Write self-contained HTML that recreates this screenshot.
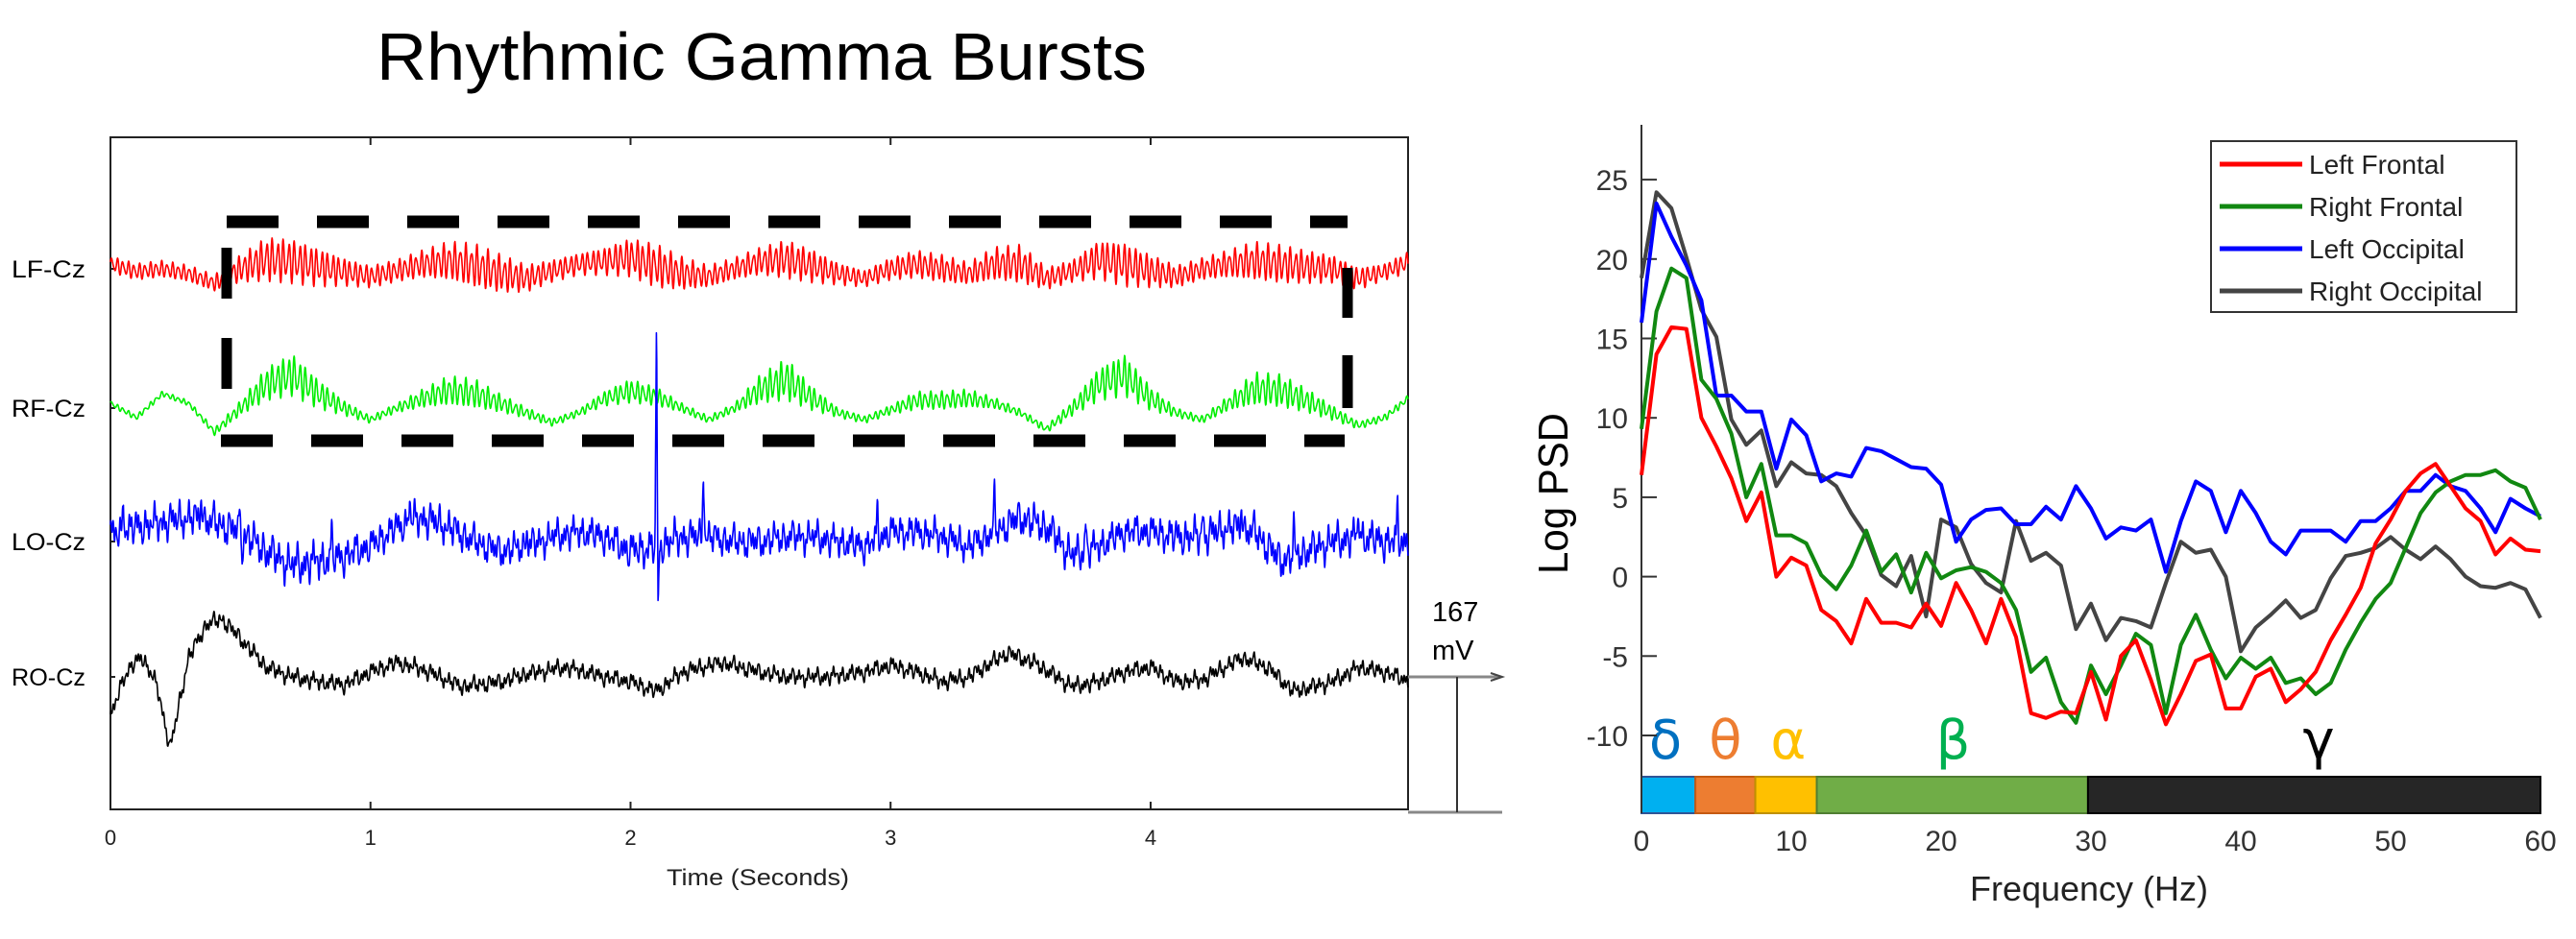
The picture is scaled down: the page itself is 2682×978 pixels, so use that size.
<!DOCTYPE html>
<html><head><meta charset="utf-8"><title>Rhythmic Gamma Bursts</title>
<style>
html,body{margin:0;padding:0;background:#fff;}
svg{display:block;font-family:"Liberation Sans",sans-serif;}
</style></head>
<body>
<svg id="fig" width="2682" height="978" viewBox="0 0 2682 978" xmlns="http://www.w3.org/2000/svg">
  <text x="392" y="83" font-size="70" textLength="802" lengthAdjust="spacingAndGlyphs" fill="#000">Rhythmic Gamma Bursts</text>

  <g id="eeg"></g>
  <g id="psd"></g>
</svg>
<script>
// ---------------- EEG data ----------------
// slow-wave values (µV-ish, up positive) on a 0.1 s grid from 0 to 5 s
const lfSlow = [5,-3,0,-5,-15,0,10,8,2,-3,-8,-2,5,8,3,-5,-10,-2,5,8,12,3,-5,-8,0,8,10,3,-5,-10,0,5,0,-5,5,5,-10,-2,10,5,-2,-8,0,5,8,5,2,0,-10,-3,8];
const lfAmp  = [9,9,9,9,9,15,24,24,21,15,12,12,15,21,24,21,15,12,12,15,21,24,18,12,12,15,21,18,12,9,12,15,15,12,18,21,12,12,21,24,18,12,12,15,21,21,18,15,12,9,12];
const rfSlow = [5,-10,15,5,-25,0,25,35,15,0,-12,0,10,18,15,5,-5,-15,-5,10,18,12,0,-12,0,20,30,10,-5,-12,-2,8,8,10,5,-5,-22,0,25,35,10,-5,-12,5,20,18,8,-5,-18,-10,12];
const rfAmp  = [3,3,3,3,4,8,18,23,16,8,4,5,10,16,16,10,6,4,4,8,13,10,5,4,5,16,23,13,5,4,5,10,10,10,6,4,4,8,18,23,13,5,4,8,18,18,13,8,4,4,4];
const loSlow = [5,15,20,25,20,10,-10,-25,-20,-15,-5,15,25,15,0,-10,-5,5,10,5,-10,-5,5,5,0,0,5,5,0,-5,10,10,5,-5,10,25,15,-15,-5,10,10,5,5,15,10,-20,-10,0,5,0,0];
const loAmp  = [19,19,19,19,19,19,20,21,21,19,17,17,19,19,17,17,17,17,17,17,19,20,19,17,17,17,17,17,17,17,17,17,17,17,17,19,19,19,17,17,17,19,19,19,19,19,19,19,19,19,19];
const loSpikeT   = [0.05,0.35,0.5,0.85,1.15,1.6,2.1,2.28,2.95,3.4,3.75,4.2,4.35,4.55,4.8,4.95];
const loSpikeUp  = [45,35,30,25,30,25,226,82,30,40,35,30,35,30,30,35];
const loSpikeDn  = [0,0,-30,0,0,0,-76,0,0,0,0,0,0,0,0,0];
const roT    = [0,0.05,0.12,0.18,0.23,0.3,0.37,0.43,0.5,0.6,0.7,0.8,0.9,1.0,1.1,1.2,1.35,1.5,1.6,1.75,1.9,2.0,2.1,2.2,2.35,2.5,2.6,2.75,2.9,3.0,3.1,3.2,3.3,3.45,3.55,3.7,3.8,3.9,4.0,4.1,4.2,4.35,4.45,4.55,4.7,4.8,4.9,5.0];
const roSlow = [-45,0,22,-10,-75,20,55,60,40,10,0,-5,-8,5,15,8,-10,-5,3,10,0,-5,-15,5,15,5,0,0,5,12,5,-5,0,25,15,-10,-5,5,10,-5,-3,20,10,-15,-5,10,5,-5];
const roAmp  = 9;
const channelNames = ["LF-Cz","RF-Cz","LO-Cz","RO-Cz"];
const timeTicks = [0,1,2,3,4];

// ---------------- PSD data ----------------
const freqs = [0,1,2,3,4,5,6,7,8,9,10,11,12,13,14,15,16,17,18,19,20,21,22,23,24,25,26,27,28,29,30,31,32,33,34,35,36,37,38,39,40,41,42,43,44,45,46,47,48,49,50,51,52,53,54,55,56,57,58,59,60];
const leftFrontal = [6.4,14.0,15.7,15.6,10,8.2,6.2,3.5,5.3,0,1.2,0.7,-2.1,-2.8,-4.2,-1.4,-2.9,-2.9,-3.2,-1.7,-3.1,-0.4,-2.1,-4.2,-1.4,-3.8,-8.6,-8.9,-8.5,-8.6,-6.0,-9.0,-5.0,-4.0,-6.5,-9.3,-7.4,-5.3,-4.9,-8.3,-8.3,-6.3,-5.8,-7.9,-7.1,-6.0,-4.0,-2.4,-0.7,2.1,3.6,5.4,6.5,7.1,5.7,4.3,3.5,1.4,2.4,1.7,1.6];
const rightFrontal = [9.3,16.7,19.4,18.8,12.4,11.2,9.0,5.0,7.1,2.6,2.6,2.1,0.1,-0.8,0.7,2.9,0.3,1.4,-1.0,1.5,-0.1,0.4,0.6,0.3,-0.4,-2.1,-6.0,-5.1,-7.9,-9.2,-5.6,-7.4,-5.6,-3.6,-4.3,-8.6,-4.3,-2.4,-4.6,-6.4,-5.1,-5.8,-5.1,-6.7,-6.4,-7.4,-6.7,-4.6,-2.9,-1.4,-0.4,1.8,4.0,5.3,6.0,6.4,6.4,6.7,6.0,5.6,3.6];
const leftOccipital = [16.0,23.5,21.4,19.6,17.4,11.4,11.4,10.4,10.4,6.8,9.9,8.9,6.0,6.5,6.3,8.1,7.9,7.4,6.9,6.8,5.8,2.2,3.6,4.2,4.3,3.3,3.3,4.4,3.6,5.7,4.3,2.4,3.1,2.9,3.6,0.3,3.5,6.0,5.4,2.8,5.4,4.0,2.2,1.4,2.9,2.9,2.9,2.2,3.5,3.5,4.3,5.4,5.4,6.4,5.7,5.4,4.3,2.8,4.9,4.3,3.8];
const rightOccipital = [18.8,24.2,23.2,20.1,16.8,15.1,9.9,8.3,9.2,5.7,7.2,6.5,6.4,5.7,4.0,2.6,0.1,-0.6,1.3,-2.5,3.6,3.1,0.8,-0.4,-1.0,3.5,1.0,1.5,0.7,-3.3,-1.7,-4.0,-2.6,-2.8,-3.2,-0.4,2.2,1.5,1.7,0.0,-4.7,-3.2,-2.4,-1.5,-2.6,-2.1,-0.1,1.3,1.5,1.8,2.5,1.7,1.1,1.9,1.1,0.0,-0.6,-0.7,-0.4,-0.8,-2.6];
const seriesNames = ["Left Frontal","Right Frontal","Left Occipital","Right Occipital"];
const yTicks = [-10,-5,0,5,10,15,20,25];
const xTicks = [0,10,20,30,40,50,60];
const bandNames = ["δ","θ","α","β","γ"];
const bandStart = [0,3.6,7.6,11.7,29.8];
const bandEnd   = [3.6,7.6,11.7,29.8,60];
const bandLabelHz = [1.6,5.6,9.8,20.8,45.2];

const NS = "http://www.w3.org/2000/svg";
function mk(tag, attrs, parent){const e=document.createElementNS(NS,tag);for(const k in attrs)e.setAttribute(k,attrs[k]);parent.appendChild(e);return e;}

// ================= EEG panel =================
const eeg = document.getElementById('eeg');
const L = {x0:115, x1:1466, y0:143, y1:843, tmax:4.99};
const tx = t => L.x0 + t/ L.tmax * (L.x1-L.x0);
const baselines = [280,425,564,705];

const box = mk('rect',{x:L.x0,y:L.y0,width:L.x1-L.x0,height:L.y1-L.y0,fill:'none',stroke:'#222','stroke-width':2},eeg);



timeTicks.forEach(t=>{
  const x = tx(t);
  const tk = mk('path',{d:`M${x},${L.y0}v8M${x},${L.y1}v-8`,stroke:'#222','stroke-width':2},eeg);
  
  
  const lb = mk('text',{x:x,y:880,'font-size':22,'text-anchor':'middle',fill:'#222'},eeg);
  lb.textContent = t;
  
  
});
const xt = mk('text',{x:789,y:922,'font-size':24,'text-anchor':'middle',fill:'#222',textLength:190,lengthAdjust:'spacingAndGlyphs'},eeg);
xt.textContent='Time (Seconds)';



channelNames.forEach((n,i)=>{
  const t = mk('text',{x:12,y:baselines[i]+9,'font-size':25,fill:'#000',textLength:77,lengthAdjust:'spacingAndGlyphs'},eeg);
  t.textContent=n;
  
  
  const tk = mk('path',{d:`M${L.x0},${baselines[i]}h5`,stroke:'#222','stroke-width':2},eeg);
  
  
});

function gridInterp(arr,t){const p=t/0.1;let i=Math.floor(p);if(i>=arr.length-1)return arr[arr.length-1];const f=p-i;return arr[i]*(1-f)+arr[i+1]*f;}
function knotInterp(ts,vs,t){if(t<=ts[0])return vs[0];for(let i=0;i<ts.length-1;i++){if(t<=ts[i+1]){const f=(t-ts[i])/(ts[i+1]-ts[i]);return vs[i]*(1-f)+vs[i+1]*f;}}return vs[vs.length-1];}
function spikeAt(t){let s=0;for(let k=0;k<loSpikeT.length;k++){const d=t-loSpikeT[k];if(Math.abs(d)<0.006){s+=loSpikeUp[k]*(1-Math.abs(d)/0.006);}const d2=d-0.006;if(loSpikeDn[k]&&Math.abs(d2)<0.006){s+=loSpikeDn[k]*(1-Math.abs(d2)/0.006);}}return s;}

function trace(slowFn, ampFn, oscFn, base, color, name){
  let d='';const N=4000;
  for(let i=0;i<=N;i++){const t=i/N*L.tmax;const v=slowFn(t)+ampFn(t)*oscFn(t);const x=tx(t);const y=base-v;d+=(i?'L':'M')+x.toFixed(1)+','+y.toFixed(1);}
  const p = mk('path',{d:d,fill:'none',stroke:color,'stroke-width':1.6,'stroke-linejoin':'round'},eeg);
  
  
}
const gammaOsc = t => 0.75*Math.sin(2*Math.PI*47*t)+0.25*Math.sin(2*Math.PI*71*t+1.3);
const noiseOsc = t => 0.45*Math.sin(2*Math.PI*31*t)+0.35*Math.sin(2*Math.PI*53*t+0.7)+0.3*Math.sin(2*Math.PI*83*t+2.1)+0.25*Math.sin(2*Math.PI*113*t+0.4)+0.2*Math.sin(2*Math.PI*13*t+0.4);
trace(t=>gridInterp(lfSlow,t), t=>gridInterp(lfAmp,t), gammaOsc, baselines[0], '#ff0000', 'lf-cz-trace');
trace(t=>gridInterp(rfSlow,t), t=>gridInterp(rfAmp,t), gammaOsc, baselines[1], '#00ee00', 'rf-cz-trace');
trace(t=>gridInterp(loSlow,t)+spikeAt(t), t=>gridInterp(loAmp,t), noiseOsc, baselines[2], '#0000ff', 'lo-cz-trace');
trace(t=>knotInterp(roT,roSlow,t), t=>roAmp, noiseOsc, baselines[3], '#000000', 'ro-cz-trace');

// dashed highlight box
const dash = mk('g',{},eeg);


mk('path',{d:'M236,231H1403',stroke:'#000','stroke-width':13,'stroke-dasharray':'54 40',fill:'none'},dash);
mk('path',{d:'M230,459H1400',stroke:'#000','stroke-width':13,'stroke-dasharray':'54 40',fill:'none'},dash);
mk('path',{d:'M236,258V311M236,352V405M1403,279V331M1403,370V425',stroke:'#000','stroke-width':11,fill:'none'},dash);

// scale bar
const sb = mk('g',{},eeg);


mk('path',{d:'M1466,705H1562M1466,846H1564',stroke:'#888','stroke-width':3,fill:'none'},sb);
mk('path',{d:'M1552,701L1564,705L1552,709',stroke:'#444','stroke-width':2,fill:'none'},sb);
mk('path',{d:'M1517,705V846',stroke:'#333','stroke-width':2,fill:'none'},sb);
const s1 = mk('text',{x:1491,y:647,'font-size':29,fill:'#000'},sb); s1.textContent='167';
 
const s2 = mk('text',{x:1491,y:687,'font-size':29,fill:'#000'},sb); s2.textContent='mV';
 

// ================= PSD panel =================
const psd = document.getElementById('psd');
const P = {x0:1709, x1:2645, top:130, bot:847};
const fx = f => P.x0 + f/60*(P.x1-P.x0);
const vy = v => 600.6 - v*16.54;

bandNames.forEach((n,i)=>{
  const fills=['#00B0F0','#ED7D31','#FFC000','#70AD47','#262626'];
  const strokes=['#2F5597','#C55A11','#BF9000','#507E32','#000'];
  const r = mk('rect',{x:fx(bandStart[i]),y:809,width:fx(bandEnd[i])-fx(bandStart[i]),height:38,fill:fills[i],stroke:strokes[i],'stroke-width':2},psd);
  
  
  const cols=['#0070C0','#ED7D31','#FFC000','#00B050','#000'];
  const t = mk('text',{x:fx(bandLabelHz[i]),y:790,'font-size':56,'text-anchor':'middle',fill:cols[i],'font-family':'"DejaVu Sans","Liberation Sans",sans-serif'},psd);
  t.textContent=n;
  
  
});

const ax = mk('path',{d:`M${P.x0},${P.top}V${P.bot}`,stroke:'#333','stroke-width':2,fill:'none'},psd);


yTicks.forEach(v=>{
  const y=vy(v);
  const tk = mk('path',{d:`M${P.x0},${y}h16`,stroke:'#333','stroke-width':2},psd);
  
  
  const lb = mk('text',{x:1695,y:y+11,'font-size':30,'text-anchor':'end',fill:'#333'},psd);
  lb.textContent=v;
  
  
});
xTicks.forEach(f=>{
  const lb = mk('text',{x:fx(f),y:886,'font-size':30,'text-anchor':'middle',fill:'#333'},psd);
  lb.textContent=f;
  
  
});
const yl = mk('text',{x:0,y:0,'font-size':44,'text-anchor':'middle',fill:'#000',transform:'translate(1632,514) rotate(-90)',textLength:168,lengthAdjust:'spacingAndGlyphs'},psd);
yl.textContent='Log PSD';


const xl = mk('text',{x:2175,y:938,'font-size':36,'text-anchor':'middle',fill:'#222'},psd);
xl.textContent='Frequency (Hz)';



const seriesData=[leftFrontal,rightFrontal,leftOccipital,rightOccipital];
const seriesColors=['#ff0000','#118811','#0000ff','#444444'];
const seriesIds=['left-frontal-line','right-frontal-line','left-occipital-line','right-occipital-line'];
[3,2,1,0].forEach(i=>{
  const d = seriesData[i].map((v,k)=>(k?'L':'M')+fx(freqs[k]).toFixed(1)+','+vy(v).toFixed(1)).join('');
  const p = mk('path',{d:d,fill:'none',stroke:seriesColors[i],'stroke-width':4,'stroke-linejoin':'round'},psd);
  
  
});

// legend
const lg = mk('g',{},psd);


mk('rect',{x:2302,y:147,width:318,height:178,fill:'#fff',stroke:'#333','stroke-width':2},lg);
seriesNames.forEach((n,i)=>{
  const y = 171 + i*44;
  const e = mk('g',{},lg);
  
  
  mk('path',{d:`M2311,${y}H2397`,stroke:seriesColors[i],'stroke-width':5},e);
  const t = mk('text',{x:2404,y:y+10,'font-size':28,fill:'#222'},e);
  t.textContent=n;
});
</script>
</body></html>
